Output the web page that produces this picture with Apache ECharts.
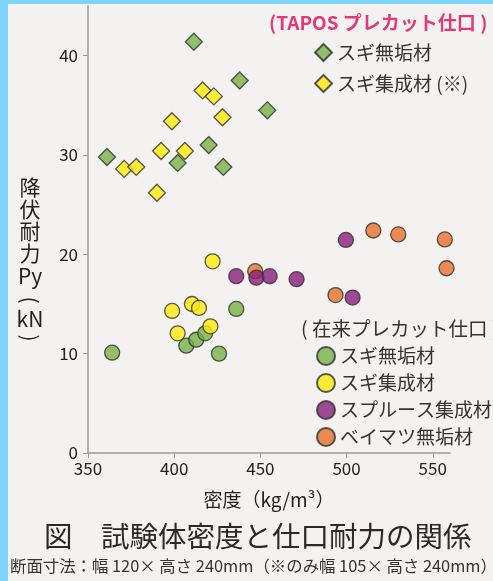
<!DOCTYPE html>
<html><head><meta charset="utf-8">
<script src="https://cdn.jsdelivr.net/npm/echarts@6/dist/echarts.min.js"></script>
<style>
html,body{margin:0;padding:0;background:#7dd5fb;width:493px;height:581px;overflow:hidden}
#bg{position:absolute;left:8px;top:4px;width:485px;height:577px;background:#f4f2f0}
#c{position:absolute;left:0;top:0;width:493px;height:581px}
</style></head>
<body><div id="bg"></div><div id="c"></div>
<script>
// TAPOS プレカット仕口 (diamonds)
const taposSugiMuku = [[361,29.8],[402,29.2],[411.4,41.4],[420,31.0],[428.5,28.8],[438,37.5],[454,34.5]];
const taposSugiShusei = [[371,28.6],[378,28.8],[390,26.2],[392.4,30.4],[398.7,33.4],[406.2,30.4],[416.5,36.5],[423,35.9],[428,33.8]];
// 在来プレカット仕口 (circles)
const zairaiSugiMuku = [[364,10.1],[407,10.8],[412.8,11.4],[418,12.05],[426,10.0],[436,14.5]];
const zairaiSugiShusei = [[398.8,14.3],[402,12.05],[410.3,15.0],[414.4,14.6],[421,12.75],[422.3,19.3]];
const spruceShusei = [[436,17.8],[447.7,17.65],[455.4,17.8],[471,17.5],[499.6,21.45],[503.5,15.65]];
const beimatsuMuku = [[447,18.3],[493.6,15.9],[515.5,22.4],[530,22.0],[557,21.5],[558,18.6]];
const xTicks = [350,400,450,500,550];
const yTicks = [0,10,20,30,40];

const FONT = '"Noto Sans CJK JP", sans-serif';
const chart = echarts.init(document.getElementById('c'), null, {renderer:'canvas'});
const border = {borderColor:'#2e2e2e', borderWidth:1.3};
const yLabelLines = [['降',187,0],['伏',209,0],['耐',231,0],['力',253,0],['Py',276,0],['(',300,-Math.PI/2],['kN',319,0],[')',338,-Math.PI/2]];

chart.setOption({
  backgroundColor:'transparent',
  textStyle:{fontFamily:FONT},
  grid:{left:88,right:43,top:6,bottom:128},
  xAxis:{type:'value',min:350,max:560,
    axisLine:{lineStyle:{color:'#9a9a9a',width:1.5}},
    axisTick:{show:true,length:5,customValues:xTicks,lineStyle:{color:'#9a9a9a'}},
    axisLabel:{customValues:xTicks,color:'#222',fontSize:17,margin:7,fontFamily:FONT},
    splitLine:{show:false},
    name:'密度（kg/m³）',nameLocation:'middle',nameGap:37,
    nameTextStyle:{color:'#222',fontSize:19,fontFamily:FONT}},
  yAxis:{type:'value',min:0,max:45,
    axisLine:{show:true,lineStyle:{color:'#9a9a9a',width:1.5}},
    axisTick:{show:true,length:5,customValues:yTicks,lineStyle:{color:'#9a9a9a'}},
    axisLabel:{customValues:yTicks,color:'#222',fontSize:17,margin:10,fontFamily:FONT},
    splitLine:{show:false}},
  legend:[
    {orient:'vertical',left:309,top:38,itemWidth:17,itemHeight:17,itemGap:12,padding:[5,5,5,5],
     data:['スギ無垢材 ','スギ集成材 (※)'],
     textStyle:{color:'#333',fontSize:19,fontFamily:FONT},selectedMode:false},
    {orient:'vertical',left:311,top:341,itemWidth:18,itemHeight:18,itemGap:7,
     data:['スギ無垢材','スギ集成材','スプルース集成材','ベイマツ無垢材'],
     textStyle:{color:'#333',fontSize:19,fontFamily:FONT},selectedMode:false}
  ],
  graphic:[
    {type:'text',left:269,top:13,style:{text:'(TAPOS プレカット仕口 )',fill:'#e23a78',font:'bold 19px '+FONT}},
    {type:'text',left:301,top:319,style:{text:'( 在来プレカット仕口 )',fill:'#333',font:'19.5px '+FONT}},
    {type:'text',left:44,top:522,style:{text:'図　試験体密度と仕口耐力の関係',fill:'#2a2a2a',font:'28.5px '+FONT}},
    {type:'text',left:10,top:558,style:{text:'断面寸法：幅 120× 高さ 240mm（※のみ幅 105× 高さ 240mm）',fill:'#333',font:'16.4px '+FONT}}
  ].concat(yLabelLines.map(([t,y,r])=>({type:'text',x:30,y:y,rotation:r,style:{text:t,fill:'#222',font:'21px '+FONT,align:'center',verticalAlign:'middle'}}))),
  series:[
    {name:'スギ無垢材 ',type:'scatter',symbol:'diamond',symbolSize:17,data:taposSugiMuku,itemStyle:Object.assign({color:'#76b244'},border)},
    {name:'スギ集成材 (※)',type:'scatter',symbol:'diamond',symbolSize:17,data:taposSugiShusei,itemStyle:Object.assign({color:'#ffe80a'},border)},
    {name:'スギ無垢材',type:'scatter',symbol:'circle',symbolSize:15,data:zairaiSugiMuku,itemStyle:Object.assign({color:'#76b244'},border)},
    {name:'スギ集成材',type:'scatter',symbol:'circle',symbolSize:15,data:zairaiSugiShusei,itemStyle:Object.assign({color:'#ffe80a'},border)},
    {name:'ベイマツ無垢材',type:'scatter',symbol:'circle',symbolSize:15,data:beimatsuMuku,itemStyle:Object.assign({color:'#e8702a'},border)},
    {name:'スプルース集成材',type:'scatter',symbol:'circle',symbolSize:15,data:spruceShusei,itemStyle:Object.assign({color:'#8a1e7d'},border)}
  ]
});
</script></body></html>
